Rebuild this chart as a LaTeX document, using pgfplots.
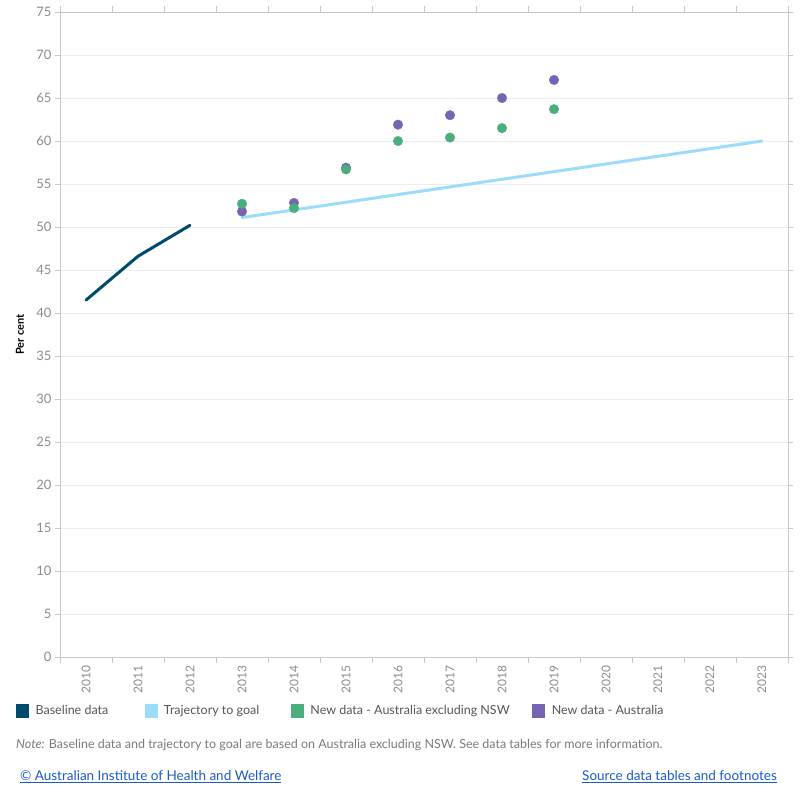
\documentclass[border=0pt]{standalone}
\usepackage{fontspec}
\setmainfont{Lato}
\usepackage{pgfplots}
\pgfplotsset{compat=1.18}
\definecolor{base}{HTML}{004B6B}
\definecolor{traj}{HTML}{9CDCF9}
\definecolor{grn}{HTML}{4AAE7D}
\definecolor{pur}{HTML}{7763B4}
\definecolor{ticklab}{HTML}{8C8C8C}
\definecolor{frame}{HTML}{C8C8C8}
\definecolor{gridc}{HTML}{EDEDED}
\definecolor{legtext}{HTML}{555555}
\definecolor{notec}{HTML}{7A7A7A}
\definecolor{linkc}{HTML}{1A5CC4}
\begin{document}
\begin{tikzpicture}[x=1pt,y=1pt]
\path[fill=white] (0,0) rectangle (800,-800);
\begin{axis}[
  at={(60pt,-657pt)}, anchor=south west,
  width=728pt, height=645pt, scale only axis,
  xmin=2009.5, xmax=2023.5, ymin=0, ymax=75,
  axis line style={draw=frame, line width=0.8pt},
  xtick={2010,...,2023},
  minor xtick={2009.5,2010.5,...,2023.5},
  major x tick style={draw=none},
  minor x tick style={draw=frame, line width=0.8pt},
  minor tick length=6pt,
  tick align=outside,
  ytick={0,5,...,75},
  major y tick style={draw=frame, line width=0.8pt},
  major tick length=5pt,
  ymajorgrids, grid style={draw=gridc, line width=0.8pt},
  xticklabel style={rotate=90, anchor=east, font=\fontsize{12}{14}\selectfont, text=ticklab,
    /pgf/number format/1000 sep={}},
  yticklabel style={font=\fontsize{13}{14}\selectfont, text=ticklab},
  /pgf/number format/assume math mode=true,
  ylabel={Per cent},
  ylabel style={font=\bfseries\fontsize{11}{13}\selectfont, text=black, at={(axis description cs:0,0.5)}, anchor=center, yshift=40pt},
  legend columns=4,
  legend style={at={(axis description cs:0,0)}, anchor=west, xshift=-44pt, yshift=-54pt,
    draw=none, fill=none, inner sep=0pt, font=\fontsize{12.5}{14}\selectfont, text=legtext},
  legend cell align=left,
  clip=false,
]
\addlegendimage{legend image code/.code={\fill[base] (0pt,-6.5pt) rectangle (12pt,6.5pt);}}
\addlegendentry{\makebox[112pt][l]{\hspace*{5pt}Baseline data}}
\addlegendimage{legend image code/.code={\fill[traj] (0pt,-6.5pt) rectangle (12pt,6.5pt);}}
\addlegendentry{\makebox[130pt][l]{\hspace*{5pt}Trajectory to goal}}
\addlegendimage{legend image code/.code={\fill[grn] (0pt,-6.5pt) rectangle (12pt,6.5pt);}}
\addlegendentry{\makebox[225pt][l]{\hspace*{5pt}New data - Australia excluding NSW}}
\addlegendimage{legend image code/.code={\fill[pur] (0pt,-6.5pt) rectangle (12pt,6.5pt);}}
\addlegendentry{\hspace*{5pt}New data - Australia}

\addplot[base, line width=3pt, line cap=round, line join=round, forget plot] coordinates {
  (2010,41.5) (2011,46.6) (2012,50.2)};
\addplot[traj, line width=3pt, line cap=round, forget plot] coordinates {
  (2013,51.1) (2023,60.0)};
\addplot[pur, only marks, mark=*, mark size=4.8pt, mark options={draw=pur, fill=pur, line width=0.3pt}, forget plot] coordinates {
  (2013,51.8) (2014,52.8) (2015,56.9) (2016,61.9) (2017,63.0) (2018,65.0) (2019,67.1)};
\addplot[grn, only marks, mark=*, mark size=4.8pt, mark options={draw=grn, fill=grn, line width=0.3pt}, forget plot] coordinates {
  (2013,52.7) (2014,52.2) (2015,56.7) (2016,60.0) (2017,60.4) (2018,61.5) (2019,63.7)};
\end{axis}
\node[anchor=west, inner sep=0pt, text=notec, font=\fontsize{12.5}{14}\selectfont] at (16,-745)
  {\textit{Note:} Baseline data and trajectory to goal are based on Australia excluding NSW. See data tables for more information.};
\node[anchor=west, inner sep=0pt, text=linkc, font=\fontsize{13.5}{15}\selectfont] at (20,-777)
  {\underline{© Australian Institute of Health and Welfare}};
\node[anchor=east, inner sep=0pt, text=linkc, font=\fontsize{13.5}{15}\selectfont] at (777,-777)
  {\underline{Source data tables and footnotes}};
\end{tikzpicture}
\end{document}
